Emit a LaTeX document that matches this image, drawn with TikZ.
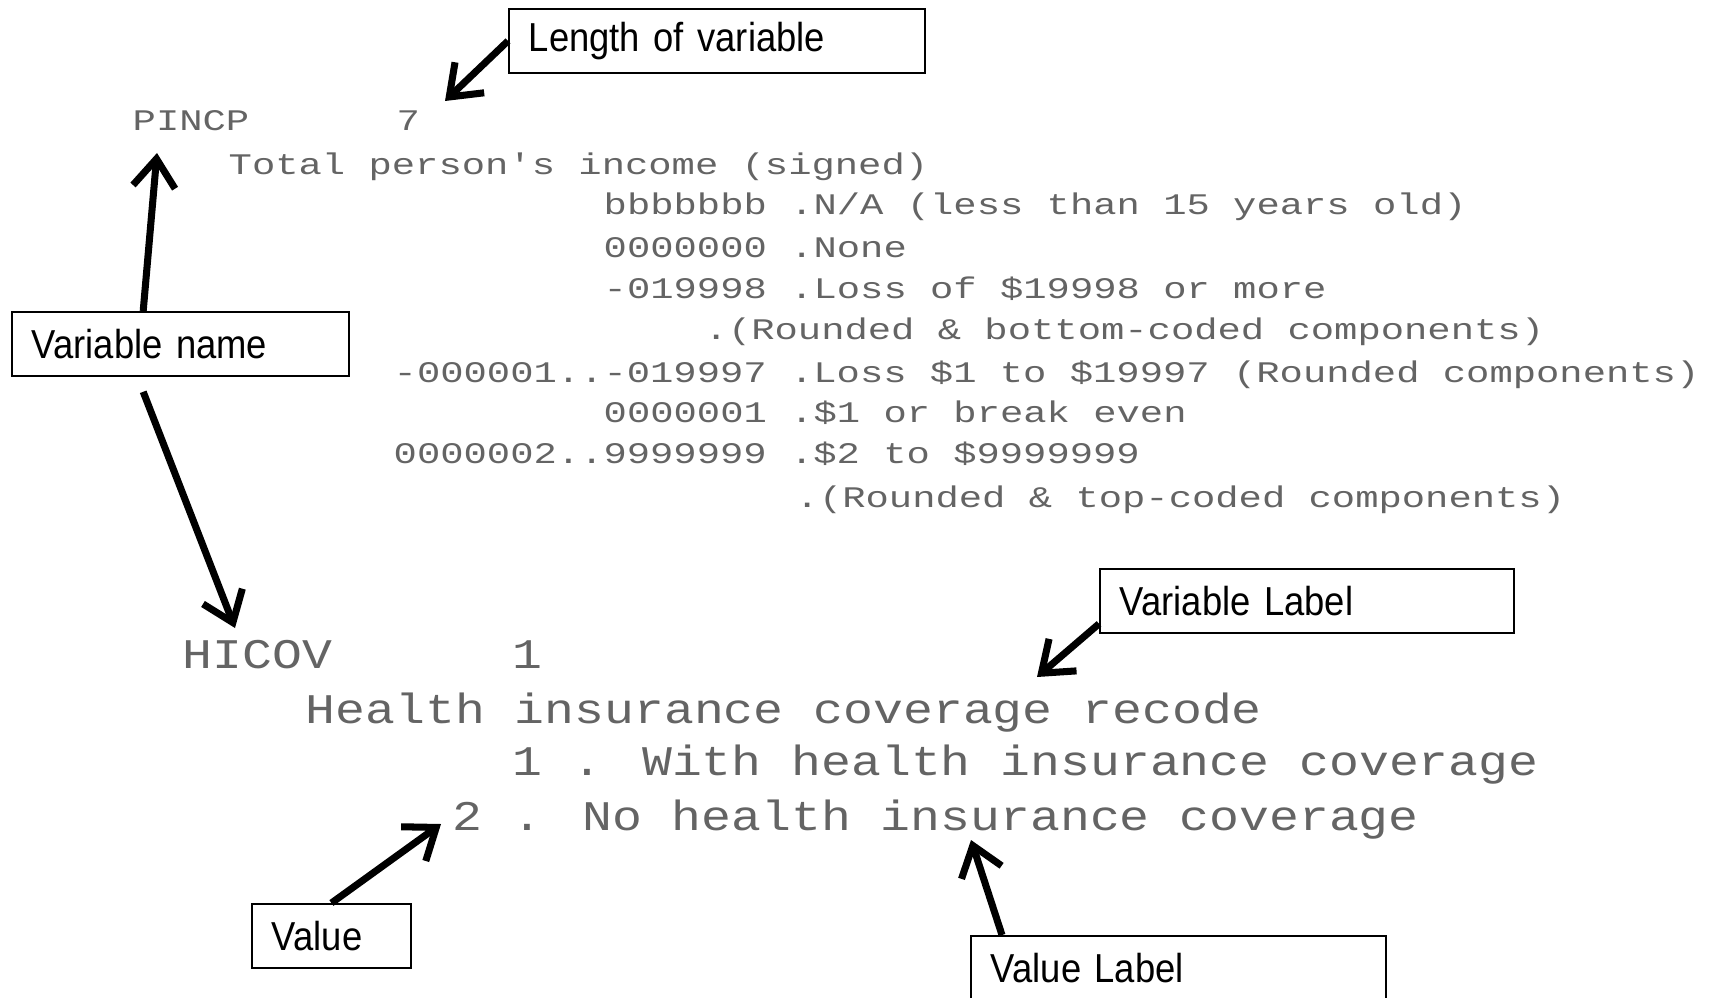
\documentclass[tikz,border=0pt]{standalone}
\usepackage{fontspec}
\newfontfamily\codefont[FakeStretch=1.3]{Liberation Mono}
\newfontfamily\bigcodefont[FakeStretch=1.18]{Liberation Mono}
\newfontfamily\calloutfont[FakeStretch=0.9]{Liberation Sans}
\usetikzlibrary{arrows.meta,calc}
\definecolor{codegray}{RGB}{100,100,100}

\tikzset{
  code/.style={anchor=base west, inner sep=0, text=codegray, font=\codefont\fontsize{8.5}{10}\selectfont},
  bigcode/.style={anchor=base west, inner sep=0, text=codegray, font=\bigcodefont\fontsize{12}{14}\selectfont},
  callout/.style={draw=black, line width=0.5pt, anchor=north west, inner xsep=0.2cm, inner ysep=0, minimum height=0.64cm, align=left, font=\calloutfont\fontsize{11.5}{13}\selectfont},
  pointer/.style={line width=2pt, -{Straight Barb[length=8pt,width=12pt]}}
}

\begin{document}
\begin{tikzpicture}[x=0.01cm, y=-0.01cm]
	\useasboundingbox (0,0) rectangle (1725,997);
	% PINCP block
	\node[code] (pincp) at (132,130) {PINCP};
	\node[code] (pincplen) at (396,130) {7};
	\node[code] (pincplab) at (228,174) {Total person's income (signed)};
	\node[code] (na) at (603,214) {bbbbbbb .N/A (less than 15 years old)};
	\node[code] (none) at (603,257) {0000000 .None};
	\node[code] (loss) at (603,298) {-019998 .Loss of \$19998 or more};
	\node[code] (lossnote) at (704,339) {.(Rounded \& bottom-coded components)};
	\node[code] (lossrange) at (393,382) {-000001..-019997 .Loss \$1 to \$19997 (Rounded components)};
	\node[code] (even) at (603,422) {0000001 .\$1 or break even};
	\node[code] (gain) at (393,463) {0000002..9999999 .\$2 to \$9999999};
	\node[code] (gainnote) at (795,507) {.(Rounded \& top-coded components)};
	% HICOV block
	\node[bigcode] (hicov) at (182,668) {HICOV};
	\node[bigcode] (hicovlen) at (512,668) {1};
	\node[bigcode] (hicovlab) at (305,723) {Health insurance coverage recode};
	\node[bigcode] (with) at (512,775) {1 . With health insurance coverage};
	\node[bigcode] (no) at (452,830) {2 . No health insurance coverage};
	% callouts
	\node[callout, text width=3.76cm] (lenbox) at (508,8) {Length of variable};
	\node[callout, text width=2.97cm] (namebox) at (11,311) {Variable name};
	\node[callout, text width=3.74cm] (labelbox) at (1099,568) {Variable Label};
	\node[callout, text width=1.19cm] (valuebox) at (251,903) {Value};
	\node[callout, text width=3.75cm] (vlabelbox) at (970,935) {Value Label};
	\coordinate (lentip) at (445,101);
	\coordinate (pincptip) at (157,153);
	\coordinate (hicovtip) at (235,628);
	\coordinate (labeltip) at (1037,677);
	\coordinate (valuetip) at (441,824);
	\coordinate (vlabeltip) at (971,840);
	\draw[pointer] (lenbox.west) -- (lentip);
	\draw[pointer] ($(namebox.north west)!0.39!(namebox.north east)$) -- (pincptip);
	\draw[pointer] ($(namebox.south west)!0.39!(namebox.south east)+(0,15)$) -- (hicovtip);
	\draw[pointer] ($(labelbox.south west)+(0,-10)$) -- (labeltip);
	\draw[pointer] (valuebox.north) -- (valuetip);
	\draw[pointer] ($(vlabelbox.north west)+(32,0)$) -- (vlabeltip);
\end{tikzpicture}
\end{document}
